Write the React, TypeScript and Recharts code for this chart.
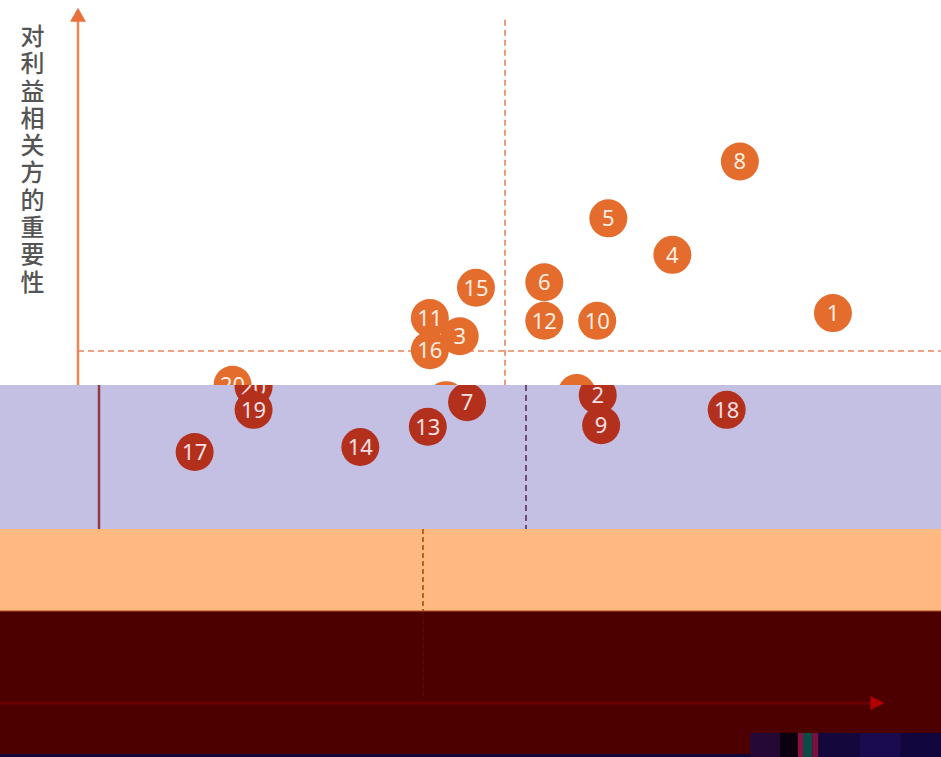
import React from "react";
import { ScatterChart, Scatter, XAxis, YAxis, ReferenceArea, ReferenceLine, ReferenceDot } from "recharts";

const W = 941;
const H = 757;
const MARGIN = { top: 0, right: 9, bottom: 55, left: 78 };

const Y_TITLE = "对利益相关方的重要性";
const X_TITLE = "对公司发展的重要性";

// topics drawn above the colour bands
const upperIds = [8, 5, 4, 15, 6, 12, 10, 1, 11, 3, 16];
const upperImpact = [7.75, 6.21, 6.96, 4.66, 5.46, 5.46, 6.08, 8.84, 4.12, 4.47, 4.12];
const upperImportance = [7.7, 6.89, 6.37, 5.9, 5.98, 5.43, 5.43, 5.54, 5.47, 5.21, 5.01];

// topics that fall into the lavender band
const lowerIds = [20, 19, 17, 14, 13, 7, 2, 9, 18];
const lowerImpact = [1.81, 1.81, 1.12, 3.06, 3.85, 4.31, 5.84, 5.88, 7.35];
const lowerImportance = [4.52, 4.19, 3.59, 3.66, 3.95, 4.3, 4.4, 3.97, 4.19];

// band edges, in importance units
const BAND_TOP = 4.516;
const LAV_BOTTOM = 2.464;
const PEACH_BOTTOM = 1.296;
const MAROON_BOTTOM = -0.741;

const glitchBlocks = [
  { from: 7.87, to: 8.22, color: "#260836" },
  { from: 8.22, to: 8.43, color: "#0a0010" },
  { from: 8.43, to: 8.49, color: "#8a1040" },
  { from: 8.49, to: 8.6, color: "#0c4a46" },
  { from: 8.6, to: 8.67, color: "#7a1040" },
  { from: 8.67, to: 9.16, color: "#13073c" },
  { from: 9.16, to: 9.63, color: "#1a0b50" },
  { from: 9.63, to: 11, color: "#12063e" },
];

const upperPoints = upperIds.map((id, i) => ({ id, x: upperImpact[i], y: upperImportance[i] }));
const lowerPoints = lowerIds.map((id, i) => ({ id, x: lowerImpact[i], y: lowerImportance[i] }));

const PLOT_H = H - MARGIN.top - MARGIN.bottom;
const PLOT_W = W - MARGIN.left - MARGIN.right;
const yPx = (v: number) => MARGIN.top + ((10 - v) / 10) * PLOT_H;
const SHIFT_PX = { x: 21, y: 2 };
const SHIFT_X = (SHIFT_PX.x / PLOT_W) * 10;
const DOT_R = 19;

const ORANGE = "#e46c2c";
const BAND_RED = "#b3301c";

function OrangeDot(props: any) {
  const { cx, cy, payload } = props;
  return (
    <g clipPath="url(#above-band)">
      <circle cx={cx} cy={cy} r={DOT_R} fill={ORANGE} />
      <text x={cx} y={cy} dy="0.36em" textAnchor="middle" fill="#fdeee2" fontSize={22} fontFamily="Noto Sans">
        {payload.id}
      </text>
    </g>
  );
}

function BandDot(props: any) {
  const { cx, cy, payload } = props;
  const x = cx + SHIFT_PX.x;
  const y = cy + SHIFT_PX.y;
  return (
    <g clipPath="url(#in-band)">
      <circle cx={x} cy={y} r={DOT_R} fill={BAND_RED} />
      <text x={x} y={y} dy="0.36em" textAnchor="middle" fill="#f4e0e4" fontSize={22} fontFamily="Noto Sans">
        {payload.id}
      </text>
    </g>
  );
}

export default function App() {
  return (
    <div style={{ position: "absolute", left: 0, top: 0, width: W, height: H, background: "#fff", overflow: "hidden" }}>
      <ScatterChart width={W} height={H} margin={MARGIN}>
        <defs>
          <clipPath id="above-band">
            <rect x={0} y={0} width={W} height={yPx(BAND_TOP)} />
          </clipPath>
          <clipPath id="in-band">
            <rect x={0} y={yPx(BAND_TOP)} width={W} height={yPx(LAV_BOTTOM) - yPx(BAND_TOP)} />
          </clipPath>
        </defs>
        <XAxis type="number" dataKey="x" domain={[0, 10]} hide />
        <YAxis type="number" dataKey="y" domain={[0, 10]} hide />

        <ReferenceArea x1={-1} x2={11} y1={LAV_BOTTOM} y2={BAND_TOP} fill="#c4c0e4" fillOpacity={1} stroke="none" ifOverflow="visible" />
        <ReferenceArea x1={-1} x2={11} y1={PEACH_BOTTOM} y2={LAV_BOTTOM} fill="#ffb981" fillOpacity={1} stroke="none" ifOverflow="visible" />
        <ReferenceArea x1={-1} x2={11} y1={MAROON_BOTTOM} y2={PEACH_BOTTOM} fill="#4c0000" fillOpacity={1} stroke="none" ifOverflow="visible" />
        <ReferenceArea x1={-1} x2={11} y1={-1} y2={MAROON_BOTTOM} fill="#12053a" fillOpacity={1} stroke="none" ifOverflow="visible" />
        {glitchBlocks.map((b, i) => (
          <ReferenceArea key={i} x1={b.from} x2={b.to} y1={-1} y2={-0.44} fill={b.color} fillOpacity={1} stroke="none" ifOverflow="visible" />
        ))}

        {/* axes and dividers above the bands */}
        <ReferenceLine segment={[{ x: 0, y: 9.72 }, { x: 0, y: BAND_TOP }]} stroke="#ec8753" strokeWidth={2.5} ifOverflow="visible" />
        <ReferenceDot
          x={0}
          y={9.79}
          ifOverflow="visible"
          shape={(p: any) => (
            <polygon points={`${p.cx},${p.cy - 7} ${p.cx - 8},${p.cy + 7} ${p.cx + 8},${p.cy + 7}`} fill="#e8703a" />
          )}
        />
        <ReferenceLine segment={[{ x: 5, y: 9.72 }, { x: 5, y: BAND_TOP }]} stroke="#e8845a" strokeWidth={1.6} strokeDasharray="6 4" ifOverflow="visible" />
        <ReferenceLine segment={[{ x: 0, y: 5 }, { x: 11, y: 5 }]} stroke="#e8845a" strokeWidth={1.6} strokeDasharray="6 4" ifOverflow="visible" />

        {/* shifted copies inside the bands */}
        <ReferenceLine segment={[{ x: SHIFT_X, y: BAND_TOP }, { x: SHIFT_X, y: LAV_BOTTOM }]} stroke="#8e3b45" strokeWidth={2.5} ifOverflow="visible" />
        <ReferenceLine segment={[{ x: 5 + SHIFT_X, y: BAND_TOP }, { x: 5 + SHIFT_X, y: LAV_BOTTOM }]} stroke="#6d4d72" strokeWidth={2} strokeDasharray="6 4" ifOverflow="visible" />
        <ReferenceLine segment={[{ x: 4.04, y: LAV_BOTTOM }, { x: 4.04, y: PEACH_BOTTOM }]} stroke="#b8641f" strokeWidth={2} strokeDasharray="5 3" ifOverflow="visible" />
        <ReferenceLine segment={[{ x: 4.04, y: PEACH_BOTTOM }, { x: 4.04, y: 0.03 }]} stroke="#5a0606" strokeWidth={2} strokeDasharray="5 3" ifOverflow="visible" />
        <ReferenceLine segment={[{ x: -1, y: PEACH_BOTTOM }, { x: 11, y: PEACH_BOTTOM }]} stroke="#b0502a" strokeWidth={1.2} ifOverflow="visible" />
        <ReferenceLine segment={[{ x: -1, y: -0.014 }, { x: 9.33, y: -0.014 }]} stroke="#6b0000" strokeWidth={3} ifOverflow="visible" />
        <ReferenceDot
          x={9.36}
          y={-0.014}
          ifOverflow="visible"
          shape={(p: any) => (
            <polygon points={`${p.cx + 7},${p.cy} ${p.cx - 7},${p.cy - 7} ${p.cx - 7},${p.cy + 7}`} fill="#b00000" />
          )}
        />

        <Scatter data={upperPoints} shape={OrangeDot} isAnimationActive={false} />
        <Scatter data={lowerPoints} shape={OrangeDot} isAnimationActive={false} />
        <Scatter data={lowerPoints} shape={BandDot} isAnimationActive={false} />

        <text x={567} y={752} fill="#3a0000" fontSize={22} fontFamily="'Noto Sans CJK SC'">
          {X_TITLE}
        </text>
      </ScatterChart>
      <div
        style={{
          position: "absolute",
          left: 20,
          top: 21,
          width: 25,
          fontFamily: "'Noto Sans CJK SC'",
          fontSize: 24,
          fontWeight: 500,
          lineHeight: "27.3px",
          color: "#555",
          textAlign: "center",
          wordBreak: "break-all",
        }}
      >
        {Y_TITLE}
      </div>
    </div>
  );
}
